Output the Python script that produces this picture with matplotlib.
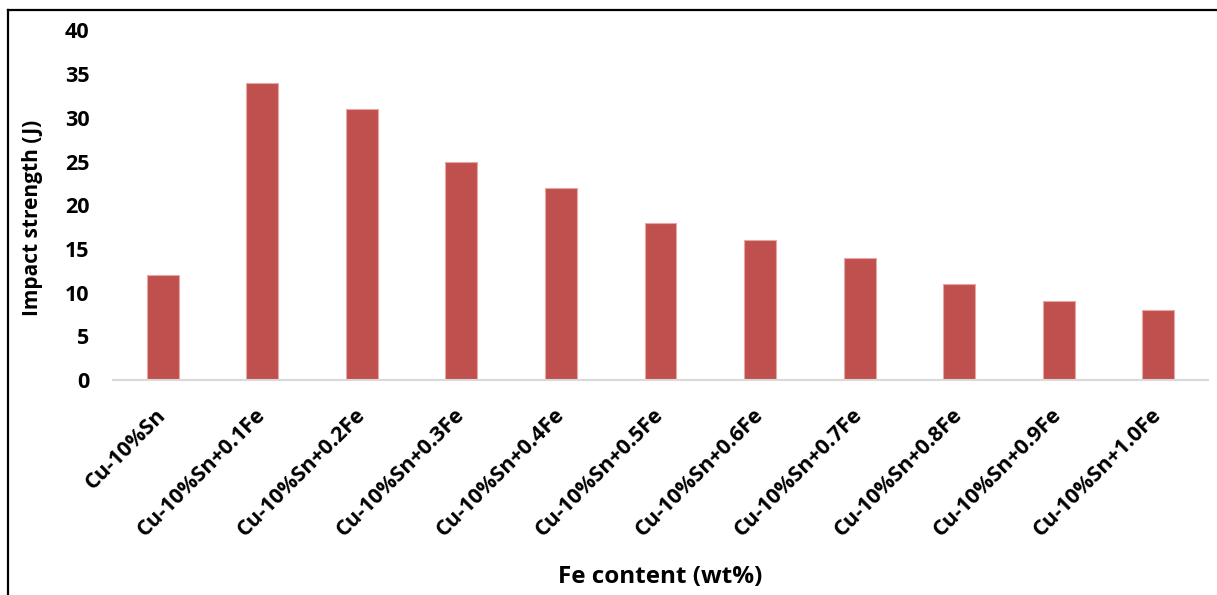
import matplotlib
matplotlib.use("Agg")
import matplotlib.pyplot as plt
from matplotlib.lines import Line2D
import numpy as np

# Impact strength of Cu-10%Sn bronze with increasing Fe additions
alloys = ["Cu-10%Sn", "Cu-10%Sn+0.1Fe", "Cu-10%Sn+0.2Fe", "Cu-10%Sn+0.3Fe",
          "Cu-10%Sn+0.4Fe", "Cu-10%Sn+0.5Fe", "Cu-10%Sn+0.6Fe", "Cu-10%Sn+0.7Fe",
          "Cu-10%Sn+0.8Fe", "Cu-10%Sn+0.9Fe", "Cu-10%Sn+1.0Fe"]
impact = [12, 34, 31, 25, 22, 18, 16, 14, 11, 9, 8]
yticks = [0, 5, 10, 15, 20, 25, 30, 35, 40]

plt.rcParams["font.family"] = ["Open Sans", "DejaVu Sans"]
plt.rcParams["font.weight"] = "bold"

W, H = 1217, 595
fig = plt.figure(figsize=(W / 100, H / 100), dpi=100)
ax = fig.add_axes([113 / W, (H - 380) / H, (1208 - 113) / W, (380 - 30.4) / H])

x = np.arange(len(alloys))
ax.bar(x, impact, width=0.32, color="#C0504D", edgecolor="#E6A6A4", linewidth=0.8)

ax.set_xlim(-0.5, len(alloys) - 0.5)
ax.set_ylim(0, 40)
ax.set_yticks(yticks)
ax.set_xticks(x)
ax.set_xticklabels(alloys, rotation=45, ha="right", va="center",
                   rotation_mode="anchor", fontsize=15.5, fontweight="bold")
for lbl in ax.get_yticklabels():
    lbl.set_fontsize(15.5)
    lbl.set_fontweight("bold")
ax.tick_params(axis="y", length=0, pad=17)
ax.tick_params(axis="x", length=0, pad=23)

for side in ["top", "right", "left"]:
    ax.spines[side].set_visible(False)
ax.spines["bottom"].set_color("#D9D9D9")
ax.spines["bottom"].set_linewidth(1.5)

fig.text(33 / W, 1 - 218 / H, "Impact strength (J)", rotation=90,
         ha="center", va="center", fontsize=15, fontweight="bold")
fig.text(660 / W, 1 - 577 / H, "Fe content (wt%)",
         ha="center", va="center", fontsize=17.5, fontweight="bold")

# outer frame lines along the top and left edges
fig.add_artist(Line2D([8 / W, 1], [1 - 10 / H, 1 - 10 / H], color="black", lw=1.6))
fig.add_artist(Line2D([8 / W, 8 / W], [0, 1 - 10 / H], color="black", lw=1.6))

fig.savefig("out.png", dpi=100)
